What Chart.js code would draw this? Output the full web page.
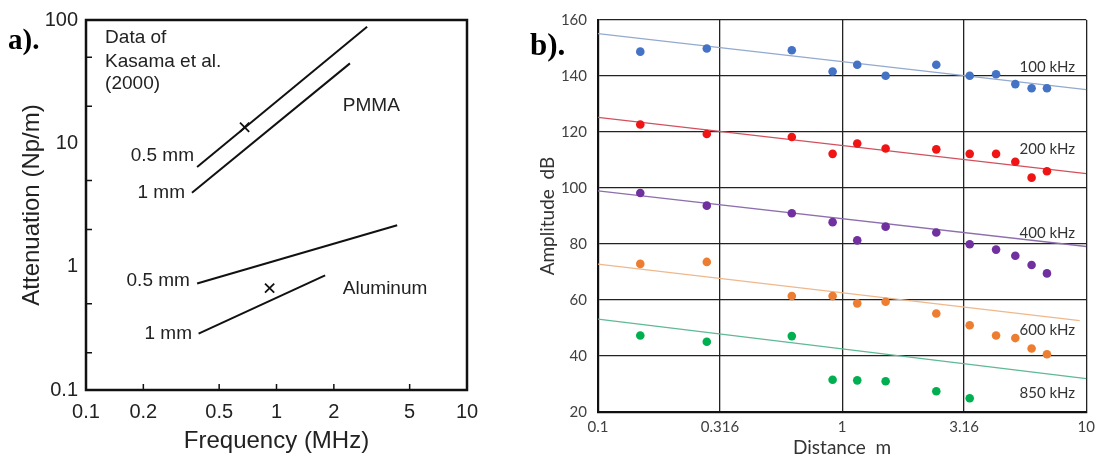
<!DOCTYPE html>
<html><head><meta charset="utf-8">
<script src="https://cdn.jsdelivr.net/npm/chart.js@4.4.0/dist/chart.umd.min.js"></script>
<style>
html,body{margin:0;padding:0;background:#fff;width:1101px;height:459px;overflow:hidden;position:relative}
#ca{position:absolute;left:0;top:0}
#cb{position:absolute;left:520px;top:0}
</style></head><body>
<canvas id="ca" width="520" height="459"></canvas>
<canvas id="cb" width="581" height="459"></canvas>
<script>
// ===== Panel a) data =====
const pmma05Freq = [0.383, 2.99];
const pmma05Att  = [6.43, 88];
const pmma1Freq  = [0.36, 2.43];
const pmma1Att   = [3.98, 44.5];
const al05Freq   = [0.383, 4.3];
const al05Att    = [0.73, 2.17];
const al1Freq    = [0.39, 1.8];
const al1Att     = [0.286, 0.85];
const markFreq   = [0.68, 0.92];
const markAtt    = [13.5, 0.67];
const freqTicks      = [0.1, 0.2, 0.5, 1, 2, 5, 10];
const freqTickLabels = ['0.1', '0.2', '0.5', '1', '2', '5', '10'];
const attTicks       = [0.1, 1, 10, 100];
const attTickLabels  = ['0.1', '1', '10', '100'];
const attMinorTicks  = [0.2, 0.5, 2, 5, 20, 50];
const freqMinorTicks = [0.2, 0.5, 1, 2, 5];

// ===== Panel b) data =====
const distance = [0.149, 0.279, 0.622, 0.914, 1.153, 1.507, 2.43, 3.33, 4.27, 5.12, 5.97, 6.9];
const amp100 = [148.7, 149.8, 149.2, 141.6, 144.0, 140.1, 144.0, 140.1, 140.6, 137.1, 135.6, 135.6];
const amp200 = [122.7, 119.3, 118.2, 112.2, 115.9, 114.1, 113.8, 112.2, 112.2, 109.4, 103.7, 106.0];
const amp400 = [98.2, 93.7, 91.0, 87.8, 81.3, 86.2, 84.1, 79.9, 78.0, 75.8, 72.5, 69.5];
const amp600 = [72.9, 73.6, 61.4, 61.4, 58.8, 59.4, 55.2, 51.0, 47.3, 46.4, 42.7, 40.6];
const amp850 = [47.3, 45.1, 47.1, 31.5, 31.3, 31.0, 27.4, 24.9];
const fitDistance    = [0.1, 10];
const fitDistance600 = [0.1, 9.4];
const fit100 = [155.1, 135.1];
const fit200 = [125.2, 105.1];
const fit400 = [99.0, 79.1];
const fit600 = [72.8, 52.6];
const fit850 = [53.2, 31.9];
const distTicks      = [0.1, 0.316, 1, 3.16, 10];
const distTickLabels = ['0.1', '0.316', '1', '3.16', '10'];
const freqLabels = ['100 kHz', '200 kHz', '400 kHz', '600 kHz', '850 kHz'];
const freqLabelAmp = [143.3, 113.8, 83.7, 49.2, 26.9];

const pts = (xs, ys) => ys.map((y, i) => ({x: xs[i], y}));

// ---------- Panel a ----------
const notesA = [
  {t: 'Data of', x: 0.126, y: 71.8, a: 'left'},
  {t: 'Kasama et al.', x: 0.126, y: 46.1, a: 'left'},
  {t: '(2000)', x: 0.126, y: 30.2, a: 'left'},
  {t: 'PMMA', x: 2.23, y: 20.1, a: 'left'},
  {t: 'Aluminum', x: 2.23, y: 0.667, a: 'left'},
  {t: '0.5 mm', x: 0.369, y: 7.87, a: 'right'},
  {t: '1 mm', x: 0.331, y: 3.98, a: 'right'},
  {t: '0.5 mm', x: 0.351, y: 0.773, a: 'right'},
  {t: '1 mm', x: 0.36, y: 0.286, a: 'right'}
];
const sansA = '"Liberation Sans", Arial, sans-serif';
const plugA = {
  id: 'plugA',
  afterDraw(chart) {
    const {ctx, chartArea: ca, scales: {x, y}} = chart;
    ctx.save();
    ctx.strokeStyle = '#111';
    ctx.lineWidth = 2.5;
    ctx.strokeRect(ca.left, ca.top, ca.right - ca.left, ca.bottom - ca.top);
    ctx.lineWidth = 1.5;
    ctx.beginPath();
    attMinorTicks.forEach(v => { const p = y.getPixelForValue(v); ctx.moveTo(ca.left, p); ctx.lineTo(ca.left + 6, p); });
    freqMinorTicks.forEach(v => { const p = x.getPixelForValue(v); ctx.moveTo(p, ca.bottom); ctx.lineTo(p, ca.bottom - 6); });
    ctx.stroke();
    ctx.fillStyle = '#222';
    ctx.font = '19px ' + sansA;
    ctx.textBaseline = 'middle';
    notesA.forEach(n => {
      ctx.textAlign = n.a;
      ctx.fillText(n.t, x.getPixelForValue(n.x), y.getPixelForValue(n.y));
    });
    ctx.fillStyle = '#000';
    ctx.font = 'bold 29px "Liberation Serif", "Times New Roman", serif';
    ctx.textAlign = 'left';
    ctx.textBaseline = 'alphabetic';
    ctx.fillText('a).', 8, 49);
    ctx.restore();
  }
};
const lineDs = (xs, ys) => ({type: 'line', data: pts(xs, ys), borderColor: '#111', borderWidth: 2, pointRadius: 0, fill: false});
new Chart(document.getElementById('ca'), {
  type: 'scatter',
  data: {datasets: [
    lineDs(pmma05Freq, pmma05Att),
    lineDs(pmma1Freq, pmma1Att),
    lineDs(al05Freq, al05Att),
    lineDs(al1Freq, al1Att),
    {type: 'scatter', data: pts(markFreq, markAtt), pointStyle: 'crossRot', pointRadius: 6.5, borderColor: '#111', borderWidth: 1.8, backgroundColor: '#111'}
  ]},
  options: {
    responsive: false, animation: false,
    layout: {padding: {left: 0, top: 15, right: 53, bottom: 0}},
    plugins: {legend: {display: false}, tooltip: {enabled: false}},
    scales: {
      x: {
        type: 'logarithmic', min: 0.1, max: 10,
        afterBuildTicks: s => { s.ticks = freqTicks.map(v => ({value: v})); },
        afterFit: s => { s.height = 69; },
        grid: {display: false, drawTicks: false},
        border: {display: false},
        ticks: {callback: (v, i) => freqTickLabels[i], font: {family: sansA, size: 20}, color: '#222', padding: 10, maxRotation: 0, autoSkip: false},
        title: {display: true, text: 'Frequency (MHz)', font: {family: sansA, size: 24}, color: '#222', padding: {top: 0, bottom: 3}}
      },
      y: {
        type: 'logarithmic', min: 0.1, max: 100,
        afterBuildTicks: s => { s.ticks = attTicks.map(v => ({value: v})); },
        afterFit: s => { s.width = 86; },
        grid: {display: false, drawTicks: false},
        border: {display: false},
        ticks: {callback: (v, i) => attTickLabels[i], font: {family: sansA, size: 20}, color: '#222', padding: 8, autoSkip: false},
        title: {display: true, text: 'Attenuation (Np/m)', font: {family: sansA, size: 24}, color: '#222', padding: {top: 18, bottom: 0}}
      }
    }
  },
  plugins: [plugA]
});

// ---------- Panel b ----------
const sansB = 'Lato, "Open Sans", sans-serif';
const plugB = {
  id: 'plugB',
  afterDraw(chart) {
    const {ctx, scales: {x, y}} = chart;
    ctx.save();
    ctx.fillStyle = '#333';
    ctx.font = '15px ' + sansB;
    ctx.textAlign = 'right';
    ctx.textBaseline = 'middle';
    freqLabels.forEach((t, i) => ctx.fillText(t, x.getPixelForValue(9.0), y.getPixelForValue(freqLabelAmp[i])));
    ctx.fillStyle = '#000';
    ctx.font = 'bold 31px "Liberation Serif", "Times New Roman", serif';
    ctx.textAlign = 'left';
    ctx.textBaseline = 'alphabetic';
    ctx.fillText('b).', 10, 55);
    ctx.restore();
  }
};
const dotDs = (ys, c) => ({type: 'scatter', data: pts(distance, ys), backgroundColor: c, borderColor: c, pointRadius: 4.3, borderWidth: 0, order: 1});
const fitDs = (xs, ys, c) => ({type: 'line', data: pts(xs, ys), borderColor: c, borderWidth: 1.3, pointRadius: 0, fill: false, order: 2});
new Chart(document.getElementById('cb'), {
  type: 'scatter',
  data: {datasets: [
    fitDs(fitDistance, fit100, '#93a9cf'),
    fitDs(fitDistance, fit200, '#d2505e'),
    fitDs(fitDistance, fit400, '#8d6fae'),
    fitDs(fitDistance600, fit600, '#efb88c'),
    fitDs(fitDistance, fit850, '#5fb896'),
    dotDs(amp100, '#4472c4'),
    dotDs(amp200, '#f01414'),
    dotDs(amp400, '#7030a0'),
    dotDs(amp600, '#ed7d31'),
    dotDs(amp850, '#00b050')
  ]},
  options: {
    responsive: false, animation: false,
    layout: {padding: {left: 0, top: 18, right: 11, bottom: 0}},
    plugins: {legend: {display: false}, tooltip: {enabled: false}},
    scales: {
      x: {
        type: 'logarithmic', min: 0.1, max: 10,
        afterBuildTicks: s => { s.ticks = distTicks.map(v => ({value: v})); },
        afterFit: s => { s.height = 47; },
        grid: {color: '#222', lineWidth: 1.3, drawTicks: false},
        border: {color: '#111', width: 2.2},
        ticks: {callback: (v, i) => distTickLabels[i], font: {family: sansB, size: 15}, color: '#404040', padding: 6, maxRotation: 0, autoSkip: false},
        title: {display: true, text: 'Distance  m', font: {family: sansB, size: 19}, color: '#333', padding: {top: 0, bottom: 0}}
      },
      y: {
        min: 20, max: 160,
        afterFit: s => { s.width = 78; },
        grid: {color: '#222', lineWidth: 1.3, drawTicks: false},
        border: {color: '#111', width: 2.2},
        ticks: {stepSize: 20, font: {family: sansB, size: 15}, color: '#404040', padding: 11},
        title: {display: true, text: 'Amplitude  dB', font: {family: sansB, size: 19}, color: '#333', padding: {top: 16, bottom: 0}}
      }
    }
  },
  plugins: [plugB]
});
</script>
</body></html>
